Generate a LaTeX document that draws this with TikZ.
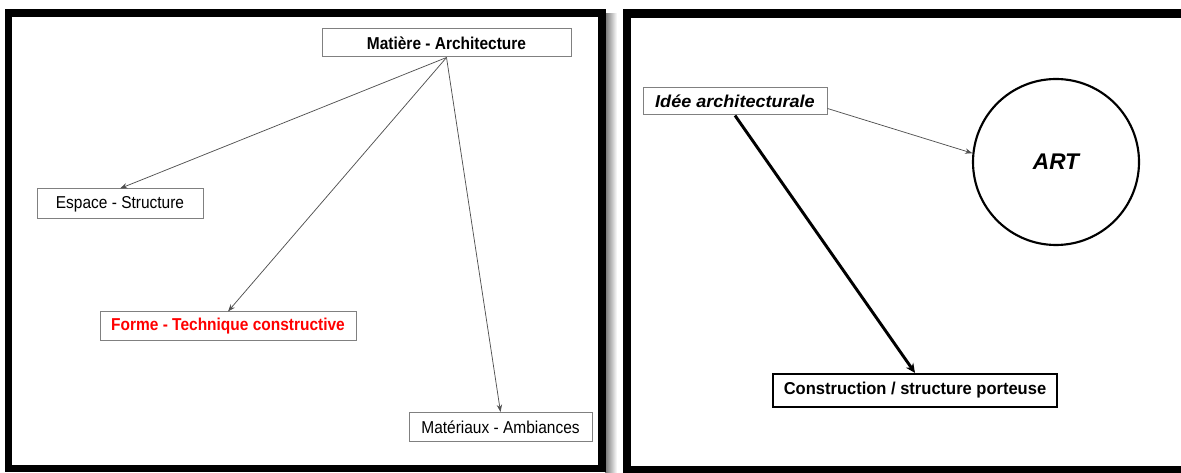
\documentclass[tikz,border=0pt]{standalone}
\usepackage{fontspec}
\setmainfont{Liberation Sans}
\newfontfamily\fleft[FakeStretch=0.9]{Liberation Sans}
\newfontfamily\fcons[FakeStretch=0.96]{Liberation Sans}
\newfontfamily\fidee[FakeStretch=1.05]{Liberation Sans}
\usetikzlibrary{arrows.meta,calc,shapes.geometric}
\newdimen\pxu \pxu=0.75pt
\definecolor{boxgray}{HTML}{808080}
\definecolor{arrowgray}{HTML}{505050}
\tikzset{
  lbox/.style={draw=boxgray, line width=0.75pt, inner sep=0pt, fill=white,
    font=\fleft\fontsize{12.9}{15}\selectfont},
  thinarrow/.style={draw=arrowgray, line width=0.55pt,
    -{Stealth[length=5.5pt,width=4pt]}},
  thickarrow/.style={draw=black, line width=2.2pt,
    -{Stealth[length=7pt,width=6.5pt]}},
}
\begin{document}
\begin{tikzpicture}[x=0.75pt,y=-0.75pt]
\useasboundingbox (0,0) rectangle (1181,473);
\clip (0,0) rectangle (1181,473);
\fill[white] (0,0) rectangle (1181,473);
% shadow of left panel
\shade[left color=black!55, right color=white] (605,14) rectangle (617,473);
% left panel frame
\fill[black] (5,9) rectangle (606,472);
\fill[white] (12,17) rectangle (598,465);
% right panel frame
\fill[black] (623,9) rectangle (1195,480);
\fill[white] (631,18) rectangle (1190,466);

% left panel nodes
\node[lbox, minimum width=249\pxu, minimum height=28\pxu, font=\fleft\bfseries\fontsize{12.9}{15}\selectfont] (mat) at (446.5,43) {Matière - Architecture};
\node[lbox, minimum width=166\pxu, minimum height=30\pxu] (esp) at (120,204) {Espace - Structure};
\node[lbox, minimum width=256\pxu, minimum height=29\pxu, text=red, font=\fleft\bfseries\fontsize{12.9}{15}\selectfont] (forme) at (228,326.5) {Forme - Technique constructive};
\node[lbox, minimum width=183\pxu, minimum height=29\pxu] (mater) at (500.5,427) {Matériaux - Ambiances};

\draw[thinarrow] (mat.south) -- (esp.north);
\draw[thinarrow] (mat.south) -- (forme.north);
\draw[thinarrow] (mat.south) -- (mater.north);

% right panel nodes
\node[lbox, minimum width=184\pxu, minimum height=27\pxu, font=\fidee\bfseries\itshape\fontsize{12.9}{15}\selectfont] (idee) at (735,101.5) {Idée architecturale};
\node[circle, draw=black, line width=1.6pt, minimum size=166\pxu, inner sep=0pt, font=\bfseries\itshape\fontsize{17}{20}\selectfont] (art) at (1056,162) {ART};
\node[draw=black, line width=1.6pt, fill=white, inner sep=0pt, minimum width=284\pxu, minimum height=33\pxu, font=\fcons\bfseries\fontsize{12.9}{15}\selectfont] (cons) at (915,390.5) {Construction / structure porteuse};

\draw[thinarrow] ($(idee.east)!0.5!(idee.south east)$) -- (art.174);
\draw[thickarrow] (idee.south) -- (cons.north);
\end{tikzpicture}
\end{document}
